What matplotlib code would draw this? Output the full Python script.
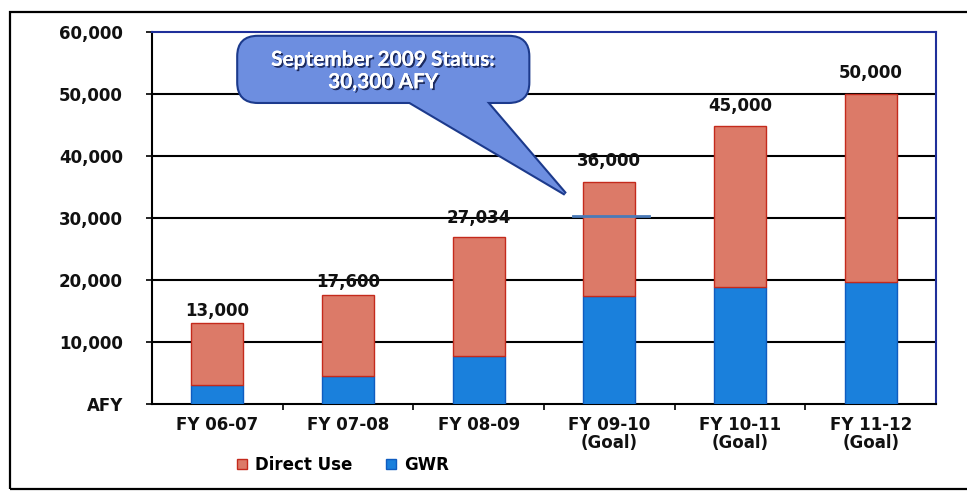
import numpy as np
import matplotlib.pyplot as plt
from matplotlib.patches import FancyBboxPatch, Polygon, Rectangle
import matplotlib.patheffects as pe

# data
years = ['FY 06-07', 'FY 07-08', 'FY 08-09', 'FY 09-10\n(Goal)', 'FY 10-11\n(Goal)', 'FY 11-12\n(Goal)']
gwr = [3000, 4500, 7800, 17400, 18800, 19600]
direct_use = [10000, 13100, 19100, 18400, 26100, 30400]
total_labels = [13000, 17600, 27034, 36000, 45000, 50000]
status_afy = 30300
status_idx = 3

plt.rcParams['font.family'] = 'DejaVu Sans'
fig = plt.figure(figsize=(9.67, 4.93), dpi=100)
ax = fig.add_axes([152/967, 1-404/493, 784/967, 372/493])

x = np.arange(len(years))
ax.bar(x, gwr, width=0.4, color='#1a80dc', edgecolor='#0f5cc0', linewidth=1, label='GWR', zorder=3)
ax.bar(x, direct_use, width=0.4, bottom=gwr, color='#dc7a68', edgecolor='#c42a1c',
       linewidth=1, label='Direct Use', zorder=3)

# total labels above bars (offsets in px, as placed on the original)
offs = [3, 4, 9, 11, 10, 12]
for i, v in enumerate(total_labels):
    ax.annotate(f'{v:,}', (x[i], v), xytext=(0, offs[i] * 0.72), textcoords='offset points',
                ha='center', va='bottom', fontsize=12, fontweight='bold', color='#111111', zorder=4)

# September 2009 status marker
ax.plot([status_idx - 0.28, status_idx + 0.30], [status_afy, status_afy], color='#4a7ab8', lw=2, zorder=4)

ax.set_xlim(-0.5, len(years) - 0.5)
ax.set_ylim(0, 60000)
ax.set_yticks(np.arange(0, 60001, 10000))
ax.set_yticklabels(['AFY'] + [f'{v:,}' for v in range(10000, 60001, 10000)],
                   fontsize=12, fontweight='bold', color='#111111')
ax.set_xticks(x)
ax.set_xticklabels(years, fontsize=12, fontweight='bold', color='#111111', linespacing=1.0)
ax.set_xticks(np.arange(0.5, len(years) - 1, 1), minor=True)
ax.tick_params(axis='x', which='major', length=0, pad=9)
ax.tick_params(axis='x', which='minor', length=4, width=1.2, color='black')
ax.tick_params(axis='y', length=4, width=1.2, pad=17)

for v in range(10000, 60000, 10000):
    ax.axhline(v, color='black', lw=1.5, zorder=1)
for s in ['left', 'bottom']:
    ax.spines[s].set_color('black')
    ax.spines[s].set_linewidth(1.5)
for s in ['top', 'right']:
    ax.spines[s].set_color('#1f2f9a')
    ax.spines[s].set_linewidth(1.5)

# callout: outlined shapes, then fill-only copies on top to merge box and tail
tr = ax.transAxes
tail_xy = [(0.258, 0.90), (0.391, 0.90), (0.527, 0.565)]
for ec, lw, z in [('#1c3a8c', 3, 6), ('none', 0, 7)]:
    ax.add_patch(Polygon(tail_xy, closed=True, transform=tr, facecolor='#6d8ee0',
                         edgecolor=ec, lw=lw, zorder=z, clip_on=False))
    ax.add_patch(FancyBboxPatch((0.110, 0.812), 0.370, 0.175, boxstyle='round,pad=0,rounding_size=0.025',
                                transform=tr, facecolor='#6d8ee0', edgecolor=ec, lw=lw, zorder=z,
                                clip_on=False, mutation_aspect=2.1))
ax.text(0.295, 0.895, 'September 2009 Status:\n30,300 AFY', transform=tr, ha='center', va='center',
        fontsize=15, fontfamily='Lato', fontweight='bold', color='white', linespacing=1.15, zorder=8,
        path_effects=[pe.withSimplePatchShadow(offset=(1.3, -1.3), shadow_rgbFace='#142050', alpha=0.9),
                      pe.Normal()])

# legend
h, l = ax.get_legend_handles_labels()
fig.legend(h[::-1], l[::-1], loc='center', bbox_to_anchor=(0.355, 0.057), ncol=2, frameon=False,
           prop={'size': 12, 'weight': 'bold'}, handlelength=0.6, handleheight=0.6,
           handletextpad=0.5, columnspacing=2.0)

# outer frame
fig.patches.append(Rectangle((10/967, 4/493), 1.0, 477/493, transform=fig.transFigure,
                             fill=False, edgecolor='black', lw=1.6))

fig.savefig('out.png', dpi=100)
